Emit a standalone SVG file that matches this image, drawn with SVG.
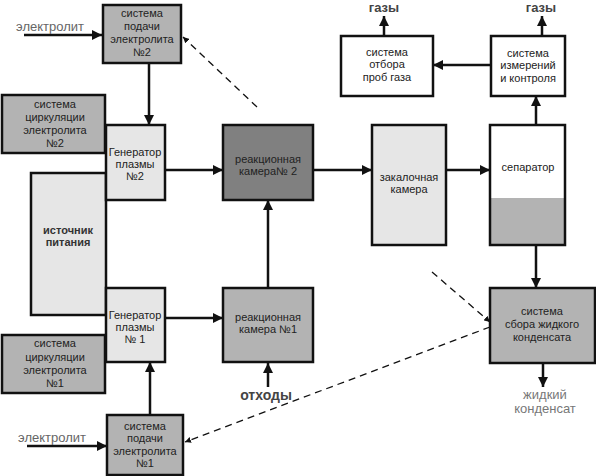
<svg xmlns="http://www.w3.org/2000/svg" width="596" height="476" viewBox="0 0 596 476">
<defs>
<marker id="big" viewBox="0 0 12 12" refX="12" refY="6" markerWidth="10" markerHeight="10" markerUnits="userSpaceOnUse" orient="auto"><path d="M0,0 L12,6 L0,12 z" fill="#111"/></marker>
<marker id="sm" viewBox="0 0 10 10" refX="10" refY="5" markerWidth="6" markerHeight="6" markerUnits="userSpaceOnUse" orient="auto"><path d="M0,0 L10,5 L0,10 z" fill="#111"/></marker>
</defs>
<style>
.b{stroke:#111;stroke-width:2.5}
.w{fill:#fff}.l{fill:#e6e6e6}.m{fill:#b3b3b3}.d{fill:#808080}
text{font-family:"Liberation Sans",Arial,sans-serif;font-size:11px;fill:#222;text-anchor:middle}
.lab{font-size:13px;fill:#666}
.bold{font-weight:bold;font-size:14px;fill:#444}
.gz{font-weight:bold;font-size:13px;fill:#444}
.c{stroke:#111;stroke-width:2.5;fill:none}
.ds{stroke:#111;stroke-width:1.3;fill:none;stroke-dasharray:7,5}
</style>
<g id="connectors">
<line class="c" x1="24" y1="35" x2="102" y2="35" marker-end="url(#big)"/>
<line class="c" x1="149" y1="63" x2="149" y2="125" marker-end="url(#big)"/>
<line class="c" x1="165" y1="170" x2="223" y2="170" marker-end="url(#big)"/>
<line class="c" x1="165" y1="318" x2="223" y2="318" marker-end="url(#big)"/>
<line class="c" x1="150" y1="415" x2="150" y2="362" marker-end="url(#big)"/>
<line class="c" x1="27" y1="446" x2="107" y2="446" marker-end="url(#big)"/>
<line class="c" x1="268" y1="288" x2="268" y2="200" marker-end="url(#big)"/>
<line class="c" x1="268" y1="387" x2="268" y2="363" marker-end="url(#big)"/>
<line class="c" x1="313" y1="170" x2="372" y2="170" marker-end="url(#big)"/>
<line class="c" x1="446" y1="170" x2="490" y2="170" marker-end="url(#big)"/>
<line class="c" x1="536" y1="245" x2="536" y2="288" marker-end="url(#big)"/>
<line class="c" x1="543" y1="363" x2="543" y2="387" marker-end="url(#big)"/>
<line class="c" x1="536" y1="125" x2="536" y2="96" marker-end="url(#big)"/>
<line class="c" x1="490" y1="65" x2="433" y2="65" marker-end="url(#big)"/>
<line class="c" x1="384" y1="36" x2="384" y2="16" marker-end="url(#big)"/>
<line class="c" x1="542" y1="35" x2="542" y2="16" marker-end="url(#big)"/>
<line class="ds" x1="257" y1="107" x2="183" y2="37" marker-end="url(#sm)"/>
<line class="ds" x1="432" y1="272" x2="490" y2="322" marker-end="url(#sm)"/>
<line class="ds" x1="490" y1="327" x2="185" y2="442" marker-end="url(#sm)"/>
</g>
<g id="feed2"><rect class="b m" x="103" y="5" width="78" height="58"/>
<text x="142" y="17">система</text><text x="142" y="30">подачи</text><text x="142" y="43">электролита</text><text x="142" y="56">№2</text></g>
<g id="circ2"><rect class="b m" x="2" y="95" width="103" height="58"/>
<text x="55" y="108">система</text><text x="55" y="121">циркуляции</text><text x="55" y="134">электролита</text><text x="55" y="147">№2</text></g>
<g id="power"><rect class="b l" x="31" y="173" width="75" height="142"/>
<text x="68" y="234" style="font-weight:bold;fill:#333">источник</text><text x="68" y="246" style="font-weight:bold;fill:#333">питания</text></g>
<g id="gen2"><rect class="b l" x="106" y="125" width="59" height="75"/>
<text x="135" y="156">Генератор</text><text x="135" y="168">плазмы</text><text x="135" y="180">№2</text></g>
<g id="gen1"><rect class="b l" x="106" y="288" width="59" height="74"/>
<text x="135" y="319">Генератор</text><text x="135" y="331">плазмы</text><text x="135" y="343">№ 1</text></g>
<g id="circ1"><rect class="b m" x="2" y="335" width="103" height="58"/>
<text x="55" y="347">система</text><text x="55" y="361">циркуляции</text><text x="55" y="374">электролита</text><text x="55" y="387">№1</text></g>
<g id="feed1"><rect class="b m" x="107" y="415" width="76" height="60"/>
<text x="145" y="430">система</text><text x="145" y="442">подачи</text><text x="145" y="455">электролита</text><text x="145" y="467">№1</text></g>
<g id="react2"><rect class="b d" x="223" y="125" width="90" height="75"/>
<text x="268" y="163">реакционная</text><text x="268" y="175">камера№ 2</text></g>
<g id="react1"><rect class="b m" x="223" y="288" width="90" height="74"/>
<text x="268" y="321">реакционная</text><text x="268" y="333">камера №1</text></g>
<g id="quench"><rect class="b l" x="372" y="125" width="74" height="120"/>
<text x="409" y="181">закалочная</text><text x="409" y="193">камера</text></g>
<g id="sep"><rect class="w" x="490" y="125" width="75" height="73"/><rect class="m" x="490" y="198" width="75" height="47"/><rect class="b" fill="none" x="490" y="125" width="75" height="120"/>
<text x="528" y="171">сепаратор</text></g>
<g id="collect"><rect class="b m" x="490" y="288" width="105" height="75"/>
<text x="542" y="315">система</text><text x="542" y="328">сбора жидкого</text><text x="542" y="341">конденсата</text></g>
<g id="sampling"><rect class="b w" x="341" y="36" width="92" height="60"/>
<text x="387" y="56">система</text><text x="387" y="68">отбора</text><text x="387" y="81">проб газа</text></g>
<g id="measure"><rect class="b w" x="491" y="36" width="74" height="60"/>
<text x="528" y="57">система</text><text x="528" y="69">измерений</text><text x="528" y="82">и контроля</text></g>
<g id="labels">
<text class="lab" x="50" y="31">электролит</text>
<text class="lab" x="52" y="442">электролит</text>
<text class="bold" x="266" y="400">отходы</text>
<text class="gz" x="384" y="12">газы</text>
<text class="gz" x="541" y="12">газы</text>
<text class="lab" x="545" y="399" style="fill:#777">жидкий</text>
<text class="lab" x="545" y="413" style="fill:#777">конденсат</text>
</g>
</svg>
